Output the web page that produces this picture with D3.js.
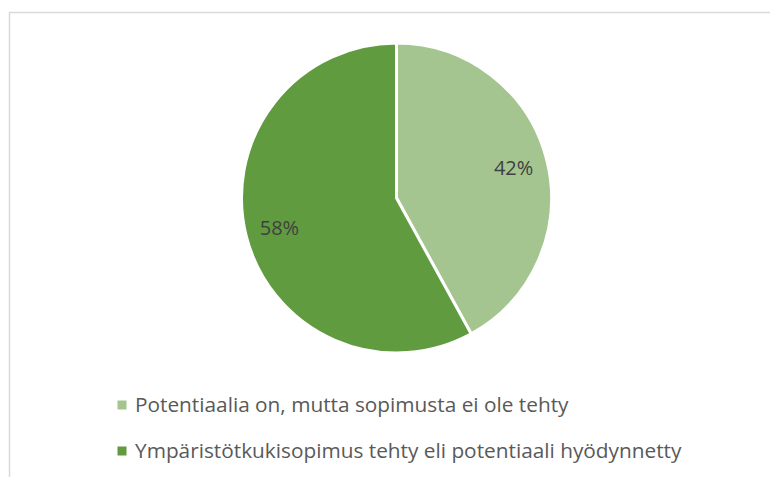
<!DOCTYPE html>
<html><head><meta charset="utf-8">
<script src="https://cdn.jsdelivr.net/npm/d3@7"></script>
<style>body{margin:0;background:#fff}svg{display:block}</style>
</head><body>
<svg id="c" width="770" height="477"></svg>
<script>
const categories = ["Potentiaalia on, mutta sopimusta ei ole tehty", "Ympäristötkukisopimus tehty eli potentiaali hyödynnetty"];
const values = [42, 58];
const colors = ["#a4c590", "#619b3f"];

const svg = d3.select("#c");
svg.append("rect").attr("x", 9.5).attr("y", 12.5).attr("width", 800).attr("height", 500)
  .attr("fill", "#fff").attr("stroke", "#d9d9d9").attr("stroke-width", 1.5);

const cx = 396.5, cy = 198, r = 155;
const pie = d3.pie().sort(null).value(d => d)(values);
const arc = d3.arc().innerRadius(0).outerRadius(r);
const g = svg.append("g").attr("transform", `translate(${cx},${cy})`);
g.selectAll("path").data(pie).join("path")
  .attr("d", arc).attr("fill", (d, i) => colors[i])
  .attr("stroke", "#fff").attr("stroke-width", 3).attr("stroke-linejoin", "round");

const total = d3.sum(values);
const labelArc = d3.arc().innerRadius(r * 0.78).outerRadius(r * 0.78);
g.selectAll("text").data(pie).join("text")
  .attr("transform", d => `translate(${labelArc.centroid(d)})`)
  .attr("text-anchor", "middle").attr("dy", "0.35em")
  .attr("font-family", "Open Sans, sans-serif").attr("font-size", 20).attr("fill", "#404040")
  .text(d => Math.round(d.data / total * 100) + "%");

const leg = svg.append("g");
categories.forEach((c, i) => {
  const y = 405 + i * 46;
  leg.append("rect").attr("x", 117.5).attr("y", y - 4.5).attr("width", 9).attr("height", 9).attr("fill", colors[i]);
  leg.append("text").attr("x", 135).attr("y", y).attr("dy", "0.35em")
    .attr("font-family", "Open Sans, sans-serif").attr("font-size", 20.8).attr("fill", "#595959")
    .text(c);
});
</script>
</body></html>
